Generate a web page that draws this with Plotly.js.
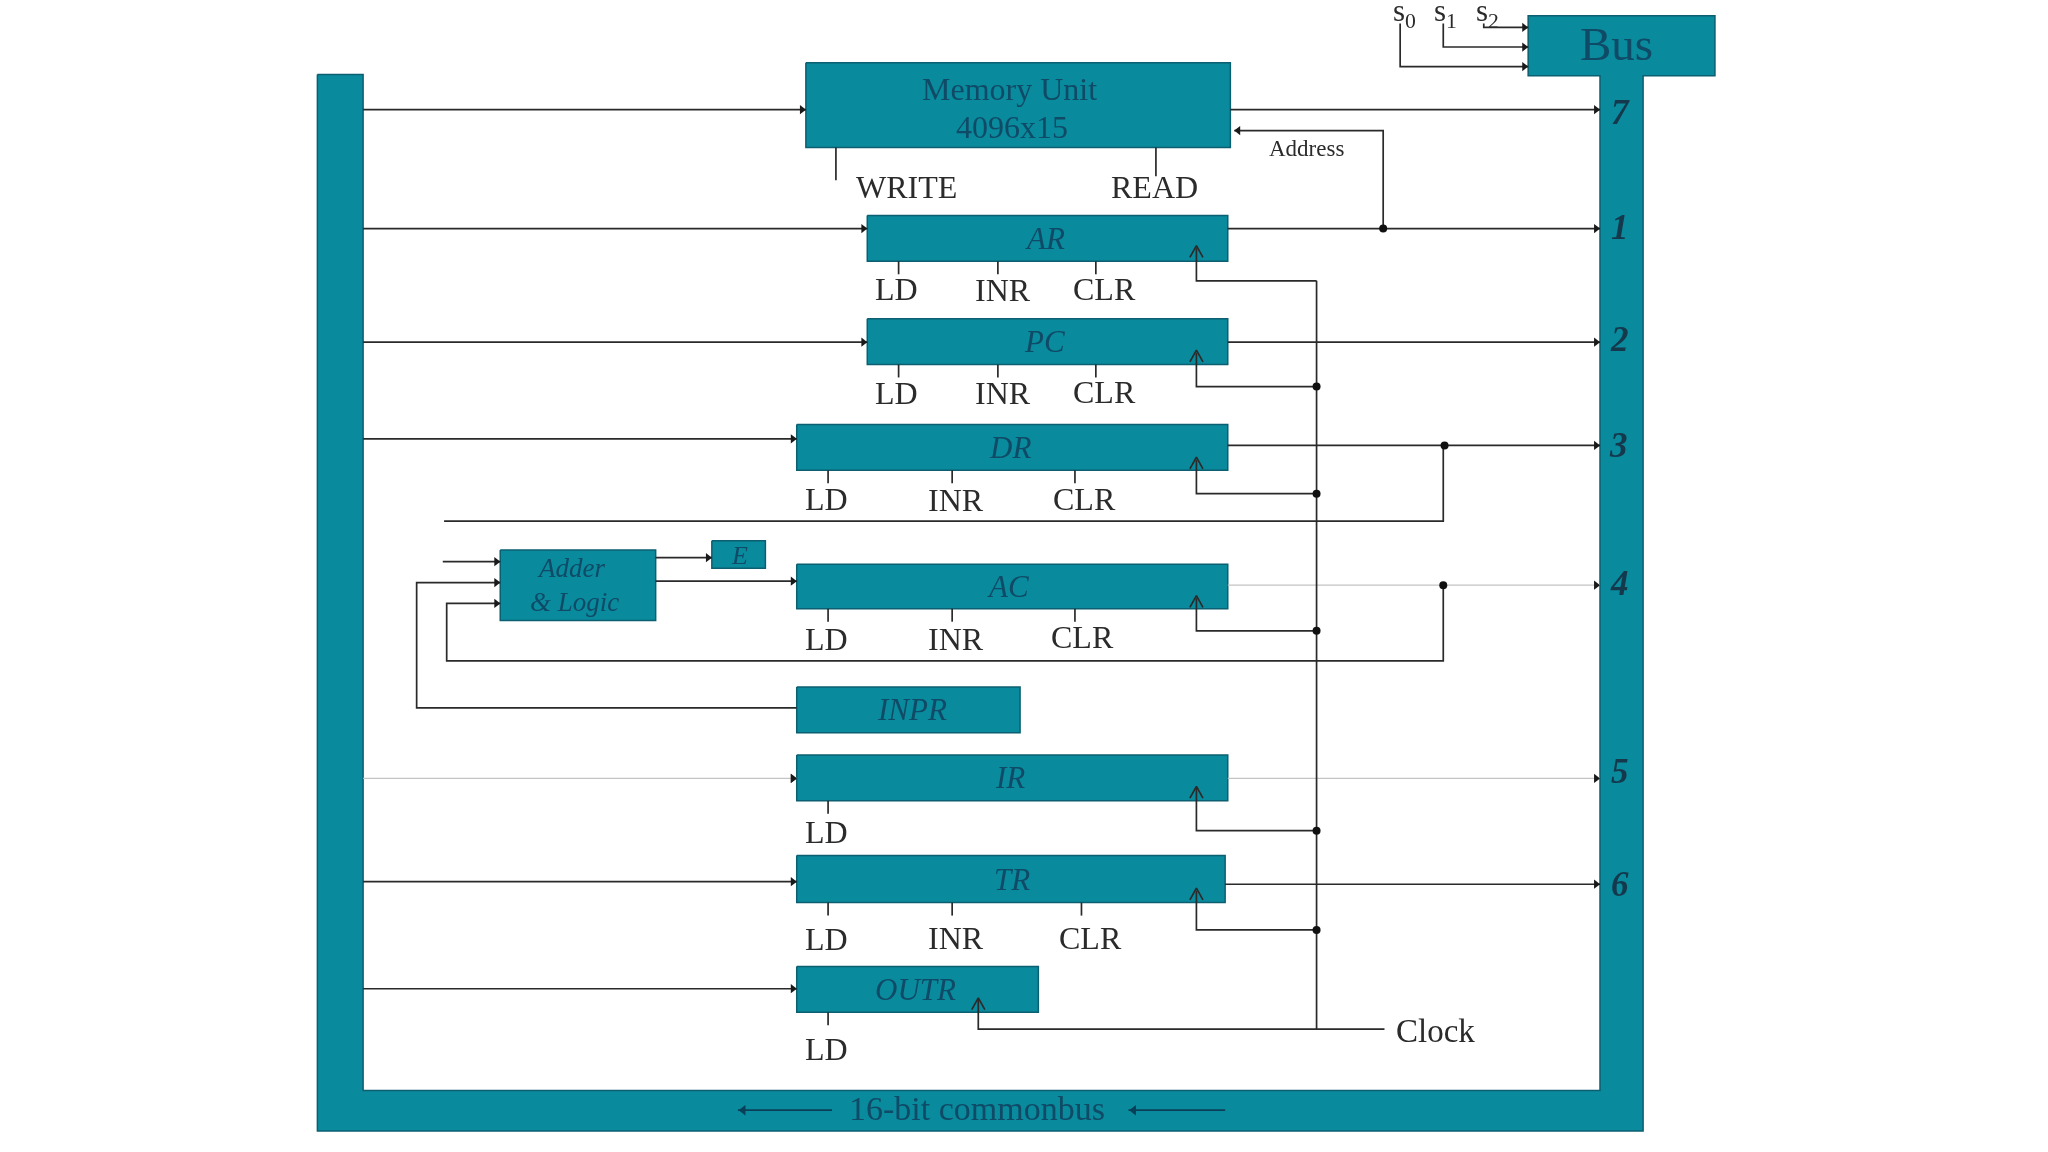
<!DOCTYPE html>
<html><head><meta charset="utf-8">
<script src="https://cdn.plot.ly/plotly-3.0.1.min.js"></script>
<style>html,body{margin:0;padding:0;background:#fff;overflow:hidden}#chart{width:2048px;height:1152px;filter:blur(0.7px)}</style>
</head><body><div id="chart"></div>
<script>
const blockNames = ['AR','PC','DR','AC','INPR','IR','TR','OUTR'];
const blockX0 = [664,664,610,610,610,610,610,610];
const blockX1 = [940,940,940,940,781,940,938,795];
const blockY0 = [165,244,325,432,526,578,655,740];
const blockY1 = [200,279,360,466,561,613,691,775];
const blockTextX = [800,800,773,772,698,773,775,701];

const plainBoxX0 = [617,383,545];
const plainBoxX1 = [942,502,586];
const plainBoxY0 = [48,421,414];
const plainBoxY1 = [113,475,435];

const frameX = [243,278,278,1225,1225,1170,1170,1313,1313,1258,1258,243,243];
const frameY = [57,57,835,835,58,58,12,12,58,58,866,866,57];

const darkWires = [
 [[278,84],[617,84]], [[942,84],[1225,84]],
 [[1059,175],[1059,100],[945,100]],
 [[278,175],[664,175]], [[940,175],[1225,175]],
 [[278,262],[664,262]], [[940,262],[1225,262]],
 [[278,336],[610,336]], [[940,341],[1225,341]],
 [[1105,341],[1105,399],[340,399]],
 [[502,445],[610,445]], [[1105,448],[1105,506],[342,506],[342,462],[383,462]],
 [[339,430],[383,430]], [[383,446],[319,446],[319,542],[610,542]],
 [[502,427],[545,427]],
 [[278,675],[610,675]], [[938,677],[1225,677]],
 [[278,757],[610,757]],
 [[1008,215],[1008,788]],
 [[916,190],[916,215],[1008,215]],
 [[916,270],[916,296],[1008,296]],
 [[916,352],[916,378],[1008,378]],
 [[916,458],[916,483],[1008,483]],
 [[916,603],[916,636],[1008,636]],
 [[916,682],[916,712],[1008,712]],
 [[1060,788],[749,788],[749,765]],
 [[1072,18],[1072,51],[1170,51]],
 [[1105,18],[1105,36],[1170,36]],
 [[1136,18],[1136,21],[1170,21]]
];
const lightWires = [
 [[940,448],[1225,448]],
 [[278,596],[610,596]], [[940,596],[1225,596]]
];
const tickX = [640,885,688,764,839,688,764,839,634,729,823,634,729,823,634,634,729,828,634];
const tickTop = [113,113,200,200,200,279,279,279,360,360,360,466,466,466,613,691,691,691,775];
const tickBottom = [138,135,210,210,210,289,289,289,370,370,370,476,476,476,623,701,701,701,785];

const arrowRightX = [617,1225,664,1225,664,1225,610,1225,610,1225,383,383,383,545,610,610,1225,610,1225,610,1170,1170,1170];
const arrowRightY = [84,84,175,175,262,262,336,341,445,448,430,446,462,427,596,596,596,675,677,757,51,36,21];
const arrowLeftX = [945];
const arrowLeftY = [100];
const dotX = [1059,1106,1105,1008,1008,1008,1008,1008];
const dotY = [175,341,448,296,378,483,636,712];
const chevronX = [916,916,916,916,916,916,749];
const chevronY = [188,268,350,456,602,680,764];

const serifLabels = ['WRITE','READ','LD','INR','CLR','LD','INR','CLR','LD','INR','CLR','LD','INR','CLR','LD','LD','INR','CLR','LD'];
const serifLabelX = [694,884,686,768,846,686,768,846,633,732,830,633,732,829,633,633,732,835,633];
const serifLabelY = [143,143,221,222,221,301,301,300,382,383,382,489,489,488,637,719,718,718,803];
const busNumbers = ['7','1','2','3','4','5','6'];
const busNumberX = [1241,1240,1240,1239,1240,1240,1240];
const busNumberY = [86,174,260,341,447,591,677];

const TEAL = '#0a8a9d', EDGE = '#0b5f70', INK = '#0f4a66', WIRE = '#2a2a2a', SERIF = 'Liberation Serif';

function flatten(list){
  const xs = [], ys = [];
  list.forEach(w => { w.forEach(p => { xs.push(p[0]); ys.push(p[1]); }); xs.push(null); ys.push(null); });
  return {xs, ys};
}
const dark = flatten(darkWires);
tickX.forEach((x,i) => { dark.xs.push(x,x,null); dark.ys.push(tickTop[i],tickBottom[i],null); });
chevronX.forEach((x,i) => { dark.xs.push(x-5,x,x+5,null); dark.ys.push(chevronY[i]+9,chevronY[i],chevronY[i]+9,null); });
const light = flatten(lightWires);

const traces = [];
traces.push({x:frameX,y:frameY,mode:'lines',fill:'toself',fillcolor:TEAL,line:{color:EDGE,width:1.5},hoverinfo:'skip'});
blockNames.forEach((n,i) => {
  traces.push({x:[blockX0[i],blockX1[i],blockX1[i],blockX0[i],blockX0[i]],y:[blockY0[i],blockY0[i],blockY1[i],blockY1[i],blockY0[i]],
    mode:'lines',fill:'toself',fillcolor:TEAL,line:{color:EDGE,width:1.5},hoverinfo:'skip'});
});
plainBoxX0.forEach((x,i) => {
  traces.push({x:[x,plainBoxX1[i],plainBoxX1[i],x,x],y:[plainBoxY0[i],plainBoxY0[i],plainBoxY1[i],plainBoxY1[i],plainBoxY0[i]],
    mode:'lines',fill:'toself',fillcolor:TEAL,line:{color:EDGE,width:1.5},hoverinfo:'skip'});
});
traces.push({x:light.xs,y:light.ys,mode:'lines',line:{color:'#c4c4c4',width:1.3},hoverinfo:'skip'});
traces.push({x:dark.xs,y:dark.ys,mode:'lines',line:{color:WIRE,width:1.7},hoverinfo:'skip'});
traces.push({x:arrowRightX.map(v=>v-3),y:arrowRightY,mode:'markers',marker:{symbol:'triangle-right',size:8,color:'#1a1a1a'},hoverinfo:'skip'});
traces.push({x:arrowLeftX.map(v=>v+3),y:arrowLeftY,mode:'markers',marker:{symbol:'triangle-left',size:8,color:'#1a1a1a'},hoverinfo:'skip'});
traces.push({x:dotX,y:dotY,mode:'markers',marker:{symbol:'circle',size:8,color:'#111'},hoverinfo:'skip'});
traces.push({x:[640,862],y:[850,850],mode:'lines',line:{color:INK,width:0},hoverinfo:'skip'});
traces.push({x:[565,637,null,864,938],y:[850,850,null,850,850],mode:'lines',line:{color:'#0a3f58',width:1.8},hoverinfo:'skip'});
traces.push({x:[569,868],y:[850,850],mode:'markers',marker:{symbol:'triangle-left',size:9,color:'#0a3f58'},hoverinfo:'skip'});

const note = (text,x,y,size,color,extra) => Object.assign({text,x,y,xref:'x',yref:'y',showarrow:false,xanchor:'center',yanchor:'middle',
  font:{family:SERIF,size,color}},extra||{});
const annotations = [];
blockNames.forEach((n,i) => annotations.push(note('<i>'+n+'</i>',blockTextX[i],(blockY0[i]+blockY1[i])/2,31,INK)));
serifLabels.forEach((t,i) => annotations.push(note(t,serifLabelX[i],serifLabelY[i],32,'#2b2b2b')));
busNumbers.forEach((t,i) => annotations.push(note('<b><i>'+t+'</i></b>',busNumberX[i],busNumberY[i],35,'#14384c')));
annotations.push(note('Memory Unit',773,68,32,INK));
annotations.push(note('4096x15',775,97,32,INK));
annotations.push(note('Address',1000,114,23,'#2b2b2b'));
annotations.push(note('Bus',1238,34,47,INK));
annotations.push(note('Clock',1099,789,33,'#2b2b2b'));
annotations.push(note('16-bit commonbus',748,849,34,INK));
annotations.push(note('<i>Adder</i>',437,435,27,INK));
annotations.push(note('<i>&amp; Logic</i>',440,461,27,INK));
annotations.push(note('<i>E</i>',566,425,26,INK));
annotations.push(note('s<sub>0</sub>',1075,10,31,'#2b2b2b'));
annotations.push(note('s<sub>1</sub>',1107,10,31,'#2b2b2b'));
annotations.push(note('s<sub>2</sub>',1139,10,31,'#2b2b2b'));

Plotly.newPlot('chart',traces,{
  width:2048,height:1152,showlegend:false,
  margin:{l:0,r:0,t:0,b:0},paper_bgcolor:'#fff',plot_bgcolor:'#fff',
  xaxis:{range:[0,1568],visible:false,fixedrange:true},
  yaxis:{range:[882,0],visible:false,fixedrange:true},
  annotations
},{staticPlot:true,displayModeBar:false});
</script></body></html>
